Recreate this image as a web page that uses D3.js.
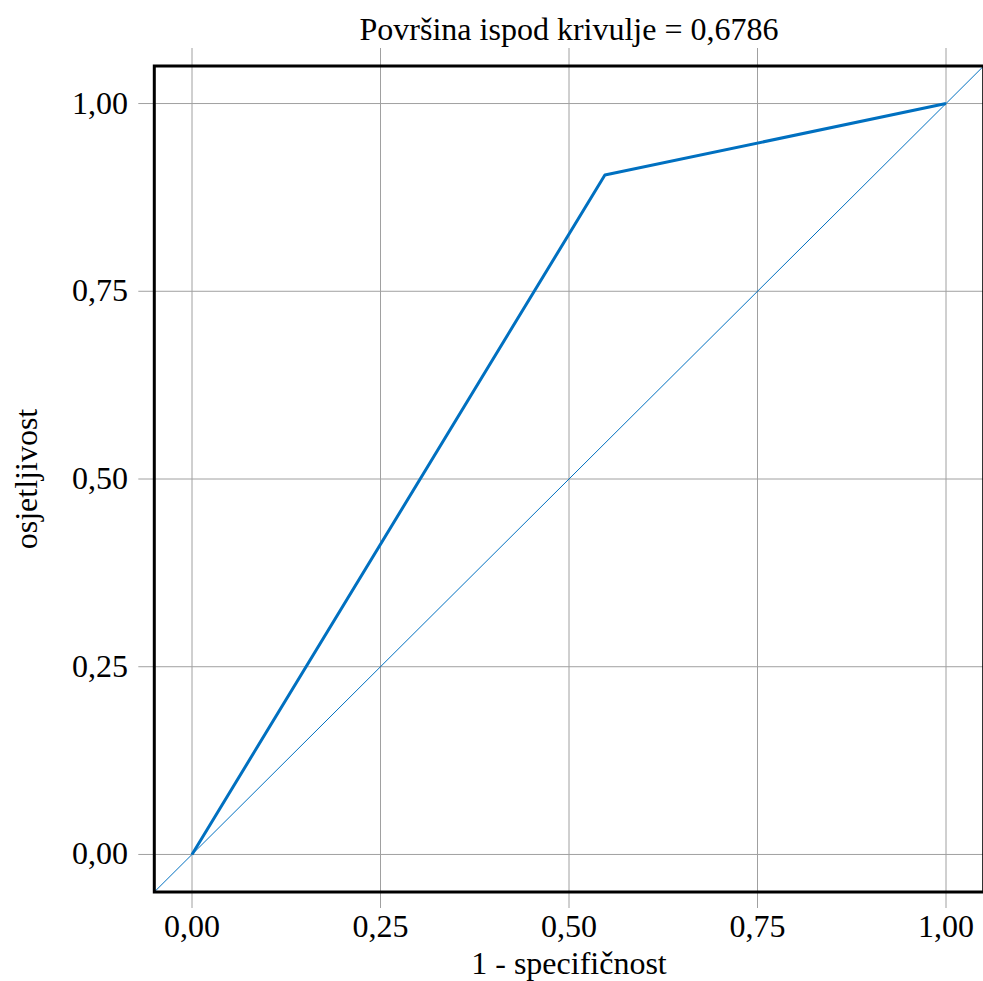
<!DOCTYPE html>
<html>
<head>
<meta charset="utf-8">
<title>ROC krivulja</title>
<style>
  body { margin: 0; background: #fff; }
  svg { display: block; font-family: "Liberation Serif", "Times New Roman", serif; }
  .grid line { stroke: #a0a0a0; stroke-width: 1px; }
  .frame { fill: none; stroke: #000; stroke-width: 3px; }
  .tick-label { font-size: 32px; fill: #000; }
</style>
</head>
<body>
<script src="https://d3js.org/d3.v7.min.js"></script>
<script>
var title = "Površina ispod krivulje = 0,6786";
var xLabel = "1 - specifičnost";
var yLabel = "osjetljivost";

// ROC tocke (1 - specificnost, osjetljivost)
var rocFpr = [0, 0.5476, 1];
var rocTpr = [0, 0.9048, 1];
var refLine = [-0.05, 1.05];
var ticks = [0, 0.25, 0.5, 0.75, 1];
var tickLabels = ["0,00", "0,25", "0,50", "0,75", "1,00"];

var width = 983, height = 981;
var pLeft = 154.3, pRight = 983.7, pTop = 66, pBottom = 892;

var x = d3.scaleLinear().domain([-0.05, 1.05]).range([pLeft, pRight]);
var y = d3.scaleLinear().domain([-0.05, 1.05]).range([pBottom, pTop]);

var svg = d3.select("body").append("svg")
    .attr("width", width)
    .attr("height", height);

// mreza
var grid = svg.append("g").attr("class", "grid");
grid.selectAll(".vx").data(ticks).enter().append("line")
    .attr("x1", d => x(d)).attr("x2", d => x(d))
    .attr("y1", pTop - 18).attr("y2", pBottom + 16);
grid.selectAll(".hy").data(ticks).enter().append("line")
    .attr("y1", d => y(d)).attr("y2", d => y(d))
    .attr("x1", pLeft - 16).attr("x2", pRight);

// dijagonala
var line = d3.line().x(d => x(d[0])).y(d => y(d[1]));
svg.append("path")
    .datum(refLine.map(v => [v, v]))
    .attr("d", line)
    .attr("fill", "none")
    .attr("stroke", "#0070c0")
    .attr("stroke-width", 1);

// ROC krivulja
svg.append("path")
    .datum(rocFpr.map((v, i) => [v, rocTpr[i]]))
    .attr("d", line)
    .attr("fill", "none")
    .attr("stroke", "#0070c0")
    .attr("stroke-width", 3)
    .attr("stroke-linejoin", "round");

svg.append("rect")
    .attr("class", "frame")
    .attr("x", pLeft).attr("y", pTop)
    .attr("width", pRight - pLeft).attr("height", pBottom - pTop);

// oznake
svg.selectAll(".xt").data(ticks).enter().append("text")
    .attr("class", "tick-label")
    .attr("x", d => x(d)).attr("y", 937)
    .attr("text-anchor", "middle")
    .text((d, i) => tickLabels[i]);
svg.selectAll(".yt").data(ticks).enter().append("text")
    .attr("class", "tick-label")
    .attr("x", 128).attr("y", d => y(d) + 10)
    .attr("text-anchor", "end")
    .text((d, i) => tickLabels[i]);

svg.append("text")
    .attr("x", (pLeft + pRight) / 2).attr("y", 40)
    .attr("text-anchor", "middle")
    .style("font-size", "32px")
    .text(title);
svg.append("text")
    .attr("x", (pLeft + pRight) / 2).attr("y", 974)
    .attr("text-anchor", "middle")
    .style("font-size", "32px")
    .text(xLabel);
svg.append("text")
    .attr("transform", "translate(37," + ((pTop + pBottom) / 2) + ") rotate(-90)")
    .attr("text-anchor", "middle")
    .style("font-size", "32px")
    .text(yLabel);
</script>
</body>
</html>
